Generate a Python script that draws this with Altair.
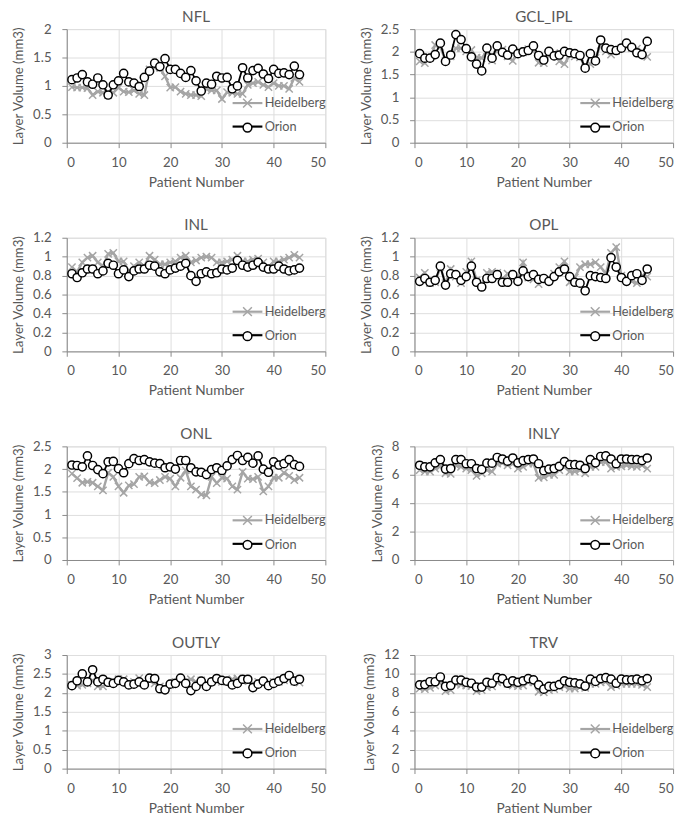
import altair as alt
import pandas as pd

patients = list(range(1, 46))
x_ticks = [0, 10, 20, 30, 40, 50]
series_names = ["Heidelberg", "Orion"]

panel_titles = ["NFL", "GCL_IPL", "INL", "OPL", "ONL", "INLY", "OUTLY", "TRV"]
y_max = [2, 2.5, 1.2, 1.2, 2.5, 8, 3, 12]
y_step = [0.5, 0.5, 0.2, 0.2, 0.5, 2, 0.5, 2]

nfl_heid = [0.98,0.97,0.97,0.96,0.84,0.90,0.88,0.84,0.88,0.97,0.90,0.89,0.92,0.86,0.84,1.29,1.32,1.32,1.17,0.97,0.98,0.90,0.86,0.84,0.84,0.82,0.95,0.92,0.92,0.77,0.89,0.88,0.86,0.86,1.02,1.05,1.07,1.02,0.98,1.05,1.00,1.00,0.95,1.14,1.07]
nfl_orion = [1.11,1.14,1.20,1.07,1.03,1.14,1.02,0.84,1.02,1.09,1.22,1.07,1.05,0.99,1.15,1.26,1.40,1.34,1.48,1.29,1.29,1.22,1.15,1.27,1.09,0.91,1.05,1.03,1.17,1.14,1.15,0.95,1.00,1.32,1.14,1.27,1.31,1.21,1.13,1.29,1.22,1.23,1.20,1.35,1.20]

gcl_heid = [1.79,1.75,1.87,2.15,2.11,1.80,1.90,2.08,2.08,2.01,2.04,1.87,1.86,2.02,1.81,2.08,2.05,1.90,1.80,2.02,1.99,2.06,2.06,1.76,1.75,1.94,1.97,1.79,1.73,1.93,1.90,1.88,1.66,1.73,1.87,2.15,2.01,1.94,2.02,2.08,2.11,2.08,2.07,2.01,1.89]
gcl_orion = [1.96,1.86,1.86,1.94,2.19,1.79,1.93,2.38,2.27,2.07,1.89,1.73,1.58,2.08,1.86,2.13,1.99,1.93,2.06,1.96,2.00,2.03,2.13,1.92,1.82,2.01,1.91,1.93,2.01,1.98,1.96,1.92,1.64,1.96,1.80,2.26,2.08,2.05,2.03,2.08,2.19,2.10,1.98,1.94,2.23]

inl_heid = [0.89,0.84,0.94,0.99,1.01,0.94,0.90,1.03,1.04,0.95,0.95,0.84,0.90,0.94,0.90,1.01,0.97,0.92,0.92,0.94,0.95,0.99,1.01,0.94,0.96,0.99,1.00,0.99,0.94,0.94,0.95,0.97,1.01,0.95,0.95,0.97,0.98,0.94,0.89,0.95,0.95,0.97,0.99,1.02,0.99]
inl_orion = [0.82,0.78,0.83,0.87,0.87,0.82,0.85,0.93,0.91,0.82,0.86,0.79,0.85,0.87,0.87,0.91,0.90,0.84,0.82,0.86,0.88,0.90,0.93,0.80,0.74,0.82,0.84,0.82,0.83,0.87,0.86,0.88,0.96,0.91,0.89,0.91,0.94,0.89,0.87,0.87,0.90,0.87,0.85,0.86,0.88]

opl_heid = [0.78,0.83,0.72,0.73,0.89,0.72,0.87,0.79,0.72,0.84,0.95,0.75,0.70,0.83,0.84,0.83,0.76,0.82,0.78,0.76,0.94,0.78,0.76,0.71,0.76,0.75,0.82,0.89,0.95,0.73,0.78,0.89,0.92,0.92,0.94,0.89,0.82,1.04,1.10,0.80,0.77,0.74,0.72,0.80,0.79]
opl_orion = [0.74,0.77,0.73,0.75,0.90,0.70,0.82,0.81,0.75,0.79,0.90,0.73,0.68,0.77,0.77,0.81,0.73,0.73,0.81,0.74,0.85,0.79,0.81,0.76,0.77,0.74,0.79,0.84,0.87,0.79,0.73,0.72,0.64,0.80,0.79,0.78,0.77,0.99,0.89,0.78,0.74,0.80,0.82,0.75,0.87]

onl_heid = [1.90,1.80,1.70,1.72,1.70,1.62,1.53,1.92,1.83,1.62,1.48,1.64,1.67,1.83,1.84,1.71,1.69,1.76,1.83,1.79,1.62,1.81,1.97,1.62,1.55,1.44,1.42,1.83,1.69,1.81,1.79,1.62,1.55,1.94,1.79,1.78,1.83,1.51,1.62,1.81,1.81,1.92,1.85,1.76,1.81]
onl_orion = [2.09,2.08,2.05,2.29,2.08,1.99,1.90,2.16,2.17,2.01,1.92,2.12,2.23,2.19,2.21,2.16,2.13,2.12,2.03,2.05,2.00,2.19,2.19,2.03,1.94,1.93,1.88,1.99,2.03,1.97,2.07,2.21,2.30,2.19,2.26,2.13,2.29,2.00,1.93,2.16,2.09,2.12,2.21,2.10,2.06]

inly_heid = [6.33,6.22,6.22,6.44,6.60,6.11,6.07,6.67,6.56,6.44,6.33,5.93,6.11,6.33,6.22,6.78,6.82,6.67,6.78,6.44,6.56,6.78,6.78,5.78,5.82,6.00,6.00,6.33,6.56,6.22,6.22,6.33,6.11,6.56,6.56,6.89,6.89,6.44,6.56,6.60,6.67,6.60,6.56,6.67,6.44]
inly_orion = [6.67,6.56,6.56,6.84,7.07,6.40,6.44,7.07,7.07,6.78,6.78,6.44,6.38,6.82,6.82,7.22,7.11,6.96,7.18,6.84,7.00,7.07,7.11,6.78,6.29,6.40,6.44,6.60,6.93,6.71,6.71,6.67,6.44,7.07,6.84,7.29,7.33,7.11,6.78,7.11,7.11,7.07,7.07,7.00,7.18]

outly_heid = [2.21,2.19,2.21,2.25,2.33,2.17,2.17,2.29,2.29,2.36,2.36,2.25,2.29,2.39,2.29,2.33,2.25,2.17,2.14,2.21,2.29,2.33,2.29,2.36,2.29,2.33,2.25,2.29,2.31,2.29,2.29,2.36,2.38,2.31,2.33,2.25,2.29,2.27,2.25,2.29,2.29,2.33,2.38,2.29,2.27]
outly_orion = [2.19,2.32,2.50,2.29,2.61,2.29,2.36,2.28,2.25,2.33,2.29,2.21,2.23,2.29,2.21,2.39,2.38,2.11,2.08,2.23,2.25,2.39,2.25,2.06,2.17,2.31,2.17,2.29,2.38,2.33,2.31,2.21,2.25,2.36,2.36,2.14,2.23,2.31,2.19,2.25,2.31,2.38,2.46,2.31,2.36]

trv_heid = [8.45,8.39,8.52,8.78,9.12,8.19,8.29,8.95,8.85,8.78,8.72,8.19,8.29,8.62,8.68,9.12,9.18,8.95,8.78,8.72,8.78,9.12,9.12,8.12,8.05,8.29,8.39,8.62,8.72,8.45,8.45,8.62,8.52,8.95,8.95,9.12,9.18,8.62,8.78,8.95,8.95,8.95,8.95,8.85,8.62]
trv_orion = [8.85,8.88,9.18,9.18,9.68,8.68,8.78,9.35,9.35,9.12,9.02,8.62,8.62,9.12,9.02,9.61,9.51,9.02,9.28,9.12,9.28,9.51,9.38,8.85,8.39,8.68,8.68,8.88,9.28,9.12,9.05,8.95,8.72,9.45,9.21,9.51,9.61,9.45,9.02,9.45,9.38,9.38,9.45,9.28,9.51]

heid_all = [nfl_heid, gcl_heid, inl_heid, opl_heid, onl_heid, inly_heid, outly_heid, trv_heid]
orion_all = [nfl_orion, gcl_orion, inl_orion, opl_orion, onl_orion, inly_orion, outly_orion, trv_orion]

GRAY = "#A5A5A5"
TEXT = "#595959"
GRID = "#D9D9D9"
FONT = "Lato"
XPATH = "M-1,-1L1,1M-1,1L1,-1"
W, H = 264, 116
LX, LY = 178, 69


def make_panel(title, heid, orion, ymax, step):
    df = pd.DataFrame({
        "Patient": patients + patients,
        "Volume": heid + orion,
        "Series": [series_names[0]] * len(heid) + [series_names[1]] * len(orion),
    })
    df["SeriesLine"] = df["Series"]
    n = int(round(ymax / step))
    yvals = [round(k * step, 2) for k in range(n + 1)]
    x = alt.X("Patient:Q", scale=alt.Scale(domain=[0, 50], nice=False),
              axis=alt.Axis(values=x_ticks, title="Patient Number", titleFontWeight="normal",
                            titleFont=FONT, titleFontSize=14, titleColor=TEXT,
                            labelFont=FONT, labelFontSize=13.5, labelColor=TEXT,
                            labelPadding=8, titlePadding=7))
    y = alt.Y("Volume:Q", scale=alt.Scale(domain=[0, ymax], nice=False),
              axis=alt.Axis(values=yvals, format=".1~f", title="Layer Volume (mm3)",
                            titleFontWeight="normal", titleFont=FONT, titleFontSize=13.5,
                            titleColor=TEXT, labelFont=FONT, labelFontSize=13.5, labelColor=TEXT,
                            labelPadding=11, titlePadding=7))
    leg_lines = alt.Legend(orient="none", legendX=LX, legendY=LY, title=None,
                           symbolType="M-3.4,0H3.4", symbolSize=80, symbolStrokeWidth=2.2,
                           labelOpacity=0, labelFontSize=13, labelOffset=11, labelFont=FONT,
                           rowPadding=10, padding=0, zindex=0)
    leg_pts = alt.Legend(orient="none", legendX=LX, legendY=LY, title=None,
                         symbolSize=80, symbolStrokeWidth=1.5, symbolFillColor="white",
                         symbolOpacity=1,
                         labelFontSize=13, labelOffset=11, labelColor=TEXT, labelFont=FONT,
                         rowPadding=10, padding=0, zindex=1)
    color = alt.Color("SeriesLine:N", scale=alt.Scale(range=[GRAY, "#000000"]), legend=leg_lines)
    stroke = alt.Stroke("Series:N", scale=alt.Scale(range=[GRAY, "#000000"]), legend=leg_pts)
    shape = alt.Shape("Series:N", scale=alt.Scale(range=[XPATH, "circle"]), legend=leg_pts)

    base = alt.Chart(df)
    line_h = base.transform_filter(alt.datum.Series == series_names[0]).mark_line(strokeWidth=2.5).encode(x=x, y=y, color=color)
    pts_h = base.transform_filter(alt.datum.Series == series_names[0]).mark_point(
        size=55, strokeWidth=1.5, opacity=1, fill="white").encode(x=x, y=y, stroke=stroke, shape=shape)
    line_o = base.transform_filter(alt.datum.Series == series_names[1]).mark_line(strokeWidth=1.8).encode(x=x, y=y, color=color)
    pts_o = base.transform_filter(alt.datum.Series == series_names[1]).mark_point(
        size=70, strokeWidth=1.5, opacity=1, fill="white").encode(x=x, y=y, stroke=stroke, shape=shape)
    return alt.layer(line_h, pts_h, line_o, pts_o).properties(
        width=W, height=H,
        title=alt.TitleParams(title, fontSize=15.5, color=TEXT, font=FONT, fontWeight="normal", offset=-3),
    )


panels = [make_panel(panel_titles[i], heid_all[i], orion_all[i], y_max[i], y_step[i]) for i in range(8)]

chart = alt.concat(*panels, columns=2, spacing={"row": 29, "column": 32}).resolve_scale(
    color="independent", stroke="independent", shape="independent"
).properties(
    padding={"left": 3, "top": -7, "right": 2, "bottom": 2}
).configure_view(
    stroke=GRID, strokeWidth=1
).configure_axis(
    gridColor=GRID, gridWidth=1, domain=False, ticks=False,
    labelColor=TEXT, titleColor=TEXT, labelFont=FONT, titleFont=FONT,
    labelFontSize=13.5, titleFontSize=13.5, titleFontWeight="normal",
).configure(background="white")

chart.save("out.html", embed_options={"renderer": "svg", "actions": False})
